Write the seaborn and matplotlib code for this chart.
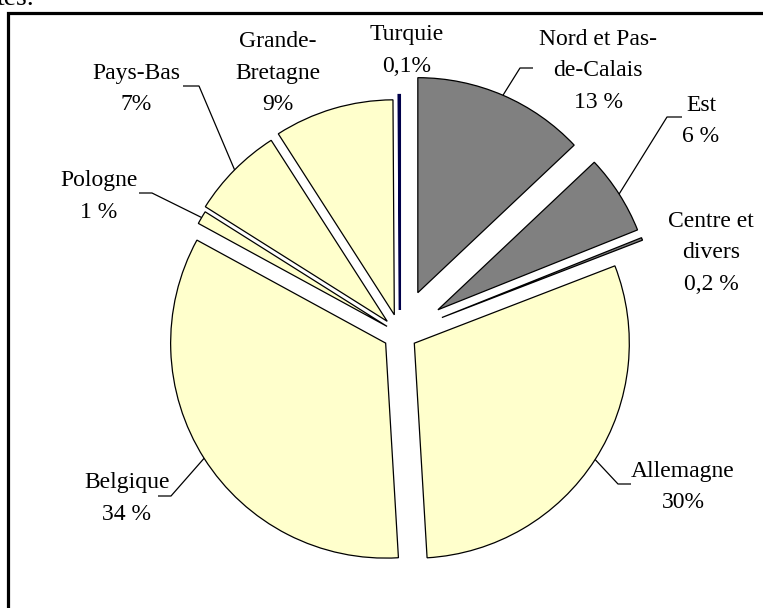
import matplotlib
matplotlib.use("Agg")
import matplotlib.pyplot as plt
from matplotlib.patches import Rectangle
import numpy as np
import seaborn as sns

# Provenance of the coal, clockwise from twelve o'clock
regions = ["Nord et Pas-\nde-Calais", "Est", "Centre et\ndivers", "Allemagne",
           "Belgique", "Pologne", "Pays-Bas", "Grande-\nBretagne", "Turquie"]
shares = [13, 6, 0.2, 30, 34, 1, 7, 9, 0.1]
share_labels = ["13 %", "6 %", "0,2 %", "30%", "34 %", "1 %", "7%", "9%", "0,1%"]
origin = ["France", "France", "France", "Import", "Import", "Import",
          "Import", "Import", "Turquie"]

sns.set_theme(style="white")
plt.rcParams["font.family"] = ["Liberation Serif", "DejaVu Serif"]

W, H = 763, 608
palette = {"France": "#808080", "Import": "#FFFFCC", "Turquie": "#000080"}
colors = [palette[o] for o in origin]
explode = [45, 45, 45, 17, 17, 15, 18, 20, 24]
R = 215
CX, CY = 400, H - 334

fig = plt.figure(figsize=(W / 100, H / 100), dpi=100)
ax = fig.add_axes([0, 0, 1, 1])
wedges, _ = ax.pie(shares, explode=explode, colors=colors, startangle=90,
                   counterclock=False, radius=R, center=(CX, CY),
                   wedgeprops=dict(edgecolor="black", linewidth=0.9))
ax.set_xlim(0, W)
ax.set_ylim(0, H)
ax.set_aspect("equal")
ax.axis("off")

# the hair-thin Turkish wedge keeps a visible navy outline
for w, o in zip(wedges, origin):
    if o == "Turquie":
        w.set_edgecolor("#00004a")
        w.set_linewidth(1.6)

# label layout: centre x, first baseline (pixels from top)
label_pos = {
    "Nord et Pas-\nde-Calais": (598, 45),
    "Est": (701, 111),
    "Centre et\ndivers": (711, 227),
    "Allemagne": (683, 477),
    "Belgique": (127, 488),
    "Pologne": (99, 186),
    "Pays-Bas": (136, 79),
    "Grande-\nBretagne": (278, 47),
    "Turquie": (407, 40),
}
# leader lines: elbow and end point (pixels from top)
leaders = {
    "Nord et Pas-\nde-Calais": [(520, 68), (533, 68)],
    "Est": [(667, 117), (682, 117)],
    "Allemagne": [(618, 484), (631, 484)],
    "Belgique": [(171, 496), (158, 496)],
    "Pologne": [(152, 193), (139, 193)],
    "Pays-Bas": [(199, 86), (183, 86)],
}
LH = 31.5
FS = 17

for w, name, pct in zip(wedges, regions, share_labels):
    cx, cy = label_pos[name]
    lines = name.split("\n") + [pct]
    for i, line in enumerate(lines):
        ax.text(cx, H - (cy + i * LH), line, ha="center", va="baseline",
                fontsize=FS, color="black")
    if name in leaders:
        tm = np.deg2rad(0.5 * (w.theta1 + w.theta2))
        x0 = w.center[0] + w.r * np.cos(tm)
        y0 = w.center[1] + w.r * np.sin(tm)
        xs = [x0] + [p[0] for p in leaders[name]]
        ys = [y0] + [H - p[1] for p in leaders[name]]
        ax.plot(xs, ys, color="black", lw=0.9, solid_capstyle="butt")

# frame around the chart area
ax.add_patch(Rectangle((8, -20), W + 20, H - 13 + 20, fill=False,
                       edgecolor="black", lw=2.3, clip_on=False))
ax.text(-3, H - 5, "tes.", fontsize=20, ha="left", va="baseline", color="black")

fig.savefig("out.png", dpi=100)
